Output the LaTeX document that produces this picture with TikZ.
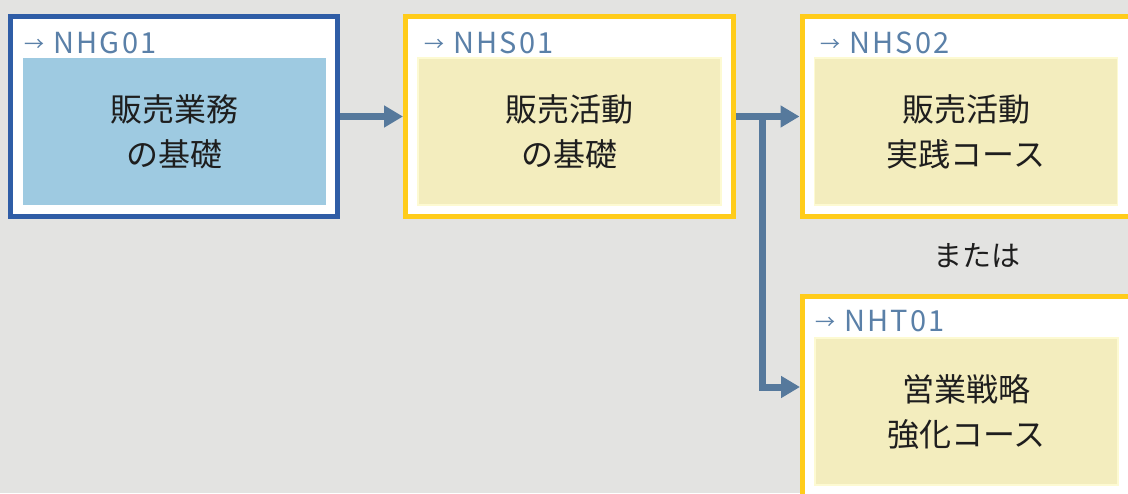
\documentclass[tikz,border=0pt]{standalone}
\usepackage{fontspec}
\setmainfont{Noto Sans CJK JP}
\newfontfamily\tagfont{Noto Sans CJK JP}[LetterSpace=8]
\usetikzlibrary{arrows.meta}
\definecolor{bggray}{HTML}{E3E3E1}
\definecolor{frameblue}{HTML}{2F5DA6}
\definecolor{fillblue}{HTML}{9ECAE1}
\definecolor{frameyellow}{HTML}{FFCC1A}
\definecolor{fillyellow}{HTML}{F3EDBE}
\definecolor{rimyellow}{HTML}{FDFAD2}
\definecolor{flowblue}{HTML}{56799C}
\definecolor{tagblue}{HTML}{5A80A8}
\definecolor{ink}{HTML}{1E1E1E}
\newcommand{\tagarrow}{\raisebox{2pt}{\fontsize{20}{20}\selectfont →}}
\begin{document}
\begin{tikzpicture}[x=1pt,y=-1pt,
    course/.style={draw, line width=5pt, fill=white, inner sep=0pt,
      minimum width=328pt, minimum height=200pt},
    body/.style={inner sep=0pt, minimum width=303pt, minimum height=147pt,
      align=center, text=ink, font=\fontsize{32}{45}\selectfont},
    tag/.style={anchor=base west, inner sep=0pt, text=tagblue,
      font=\tagfont\fontsize{29}{29}\selectfont},
    flow/.style={draw=flowblue, line width=7pt,
      -{Triangle[length=19pt,width=21pt]}}]
  \path[use as bounding box, fill=bggray] (0,0) rectangle (1128,493);
  \clip (0,0) rectangle (1128,493);
  \draw
    (174,116.5) node[course, draw=frameblue, minimum width=327pt] (o1){}
    (569.5,116.5) node[course, draw=frameyellow] (o2){}
    (966,116.5) node[course, draw=frameyellow] (o3){}
    (966.5,396.5) node[course, draw=frameyellow] (o4){};
  \draw
    (174.5,131.5) node[body, fill=fillblue] (b1){販売業務\\の基礎}
    (569.5,131.5) node[body, fill=fillyellow, draw=rimyellow, line width=1.5pt] (b2){販売活動\\の基礎}
    (966,131.5) node[body, fill=fillyellow, draw=rimyellow, line width=1.5pt] (b3){販売活動\\実践コース}
    (966.5,411.5) node[body, fill=fillyellow, draw=rimyellow, line width=1.5pt] (b4){営業戦略\\強化コース};
  \draw
    (24,53) node[tag] (t1){\tagarrow\ NHG01}
    (424,53) node[tag] (t2){\tagarrow\ NHS01}
    (820,53) node[tag] (t3){\tagarrow\ NHS02}
    (815,331) node[tag] (t4){\tagarrow\ NHT01};
  \node[text=ink, font=\fontsize{29}{29}\selectfont] (or) at (977,256) {または};
  \coordinate (fork) at (762.5,116.5);
  \begin{scope}[flow]
    \draw (o1.east) to (o2.west);
    \draw (o2.east) to (o3.west);
    \draw (fork) |- ([yshift=9.5pt]o4.west);
  \end{scope}
\end{tikzpicture}
\end{document}
